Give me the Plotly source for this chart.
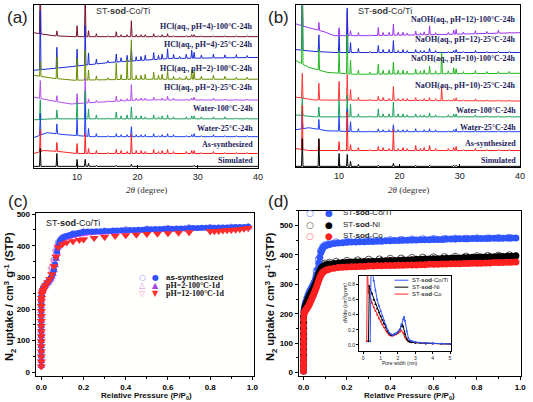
import numpy as np
import plotly.graph_objects as go

W, H = 533, 402

# ---------------- XRD data (panels a, b) ----------------
PEAKS = [3.9, 6.65, 10.0, 11.35, 11.9, 13.2, 15.1, 16.5, 17.3, 18.3, 19.0, 19.8, 20.6, 21.3,
         22.7, 23.5, 24.1, 25.0, 26.0, 27.0, 28.1, 29.0, 29.4, 30.6, 32.6, 34.5, 36.4, 38.2]

# panel (a) peak heights
a_sim = [18, 13, 7, 7, 3, 1, 0, 1, 0, 0, 2, 0, 0, 0, 0, 0, 0, 0, 0, 0, 0, 0, 1, 0, 0, 0, 0, 0]
a_as = [22, 9, 10, 20, 5, 3, 1, 4, 3, 2, 19, 3, 3, 2, 4, 2, 3, 4, 2, 0, 2, 3, 3, 1, 2, 1, 1, 1]
a_w25 = [22, 10, 17, 33, 8, 3, 1, 3, 2, 2, 10, 2, 2, 2, 3, 1, 2, 3, 2, 0, 1, 2, 3, 1, 2, 1, 1, 1]
a_w100 = [20, 9, 17, 28, 10, 4, 1, 7, 3, 4, 12, 3, 3, 2, 4, 2, 3, 4, 2, 0, 2, 3, 3, 2, 2, 2, 1, 1]
a_h2_25 = [18, 6, 10, 25, 4, 2, 1, 5, 2, 2, 16, 2, 2, 2, 3, 1, 2, 4, 2, 0, 1, 2, 3, 1, 2, 1, 1, 1]
a_h2_100 = [15, 22, 22, 30, 10, 4, 2, 17, 5, 20, 40, 4, 4, 5, 7, 4, 5, 9, 3, 2, 3, 10, 8, 3, 4, 3, 2, 2]
a_h4_25 = [60, 21, 17, 40, 12, 5, 2, 8, 4, 6, 14, 4, 4, 5, 7, 4, 5, 10, 4, 2, 4, 8, 6, 3, 4, 3, 3, 2]
a_h4_100 = [60, 5, 11, 50, 6, 3, 1, 5, 2, 2, 16, 2, 2, 2, 3, 1, 2, 3, 1, 0, 1, 2, 2, 1, 1, 1, 1, 1]

# panel (a) baselines (x in degrees, y in stacked offset units)
a_sim_bx, a_sim_by = [2.8, 40], [2, 2]
a_as_bx, a_as_by = [2.8, 4.5, 7, 9.5, 40], [15, 18, 17, 15, 15]
a_w25_bx, a_w25_by = [2.8, 5, 8, 12.5, 40], [31, 36, 34, 32, 32]
a_w100_bx, a_w100_by = [2.8, 6, 40], [49, 50, 50]
a_h2_25_bx, a_h2_25_by = [2.8, 6, 9, 14, 20.2, 40], [72, 68, 65, 67, 69, 69]
a_h2_100_bx, a_h2_100_by = [2.8, 6, 9.5, 20.2, 40], [94, 91, 89, 90, 90]
a_h4_25_bx, a_h4_25_by = [2.8, 8, 15.5, 25.5, 40], [99, 102, 107, 111, 112]
a_h4_100_bx, a_h4_100_by = [2.8, 6, 9.5, 40], [137, 134, 133, 133]

# panel (b) peak heights
b_sim = [28, 28, 13, 12, 5, 2, 0, 1, 0, 0, 3, 0, 0, 0, 1, 0, 0, 1, 0, 0, 0, 1, 1, 0, 0, 0, 0, 0]
b_as = [45, 11, 9, 39, 6, 3, 1, 4, 3, 2, 21, 2, 3, 2, 5, 2, 3, 5, 2, 0, 2, 3, 4, 1, 2, 1, 1, 1]
b_w25 = [17, 10, 15, 23, 10, 3, 1, 3, 2, 2, 7, 2, 2, 2, 3, 1, 2, 3, 2, 0, 1, 2, 3, 1, 2, 1, 1, 1]
b_w100 = [18, 10, 17, 22, 13, 3, 1, 8, 3, 3, 15, 3, 3, 2, 3, 2, 2, 4, 2, 0, 2, 3, 3, 1, 2, 1, 1, 1]
b_n10_25 = [25, 17, 19, 26, 11, 3, 1, 4, 3, 2, 14, 2, 2, 2, 3, 1, 2, 3, 2, 14, 1, 2, 3, 1, 2, 1, 1, 1]
b_n10_100 = [80, 21, 22, 40, 14, 4, 2, 10, 4, 4, 12, 4, 4, 3, 5, 3, 4, 8, 3, 22, 3, 6, 5, 2, 3, 2, 2, 2]
b_n12_25 = [60, 17, 17, 45, 10, 4, 1, 7, 3, 3, 12, 2, 3, 2, 3, 2, 2, 4, 2, 0, 1, 2, 3, 1, 2, 1, 1, 1]
b_n12_100 = [60, 8, 8, 25, 5, 3, 1, 8, 3, 3, 11, 3, 3, 2, 4, 2, 3, 9, 2, 0, 2, 4, 5, 2, 3, 2, 3, 1]

b_sim_bx, b_sim_by = [2.8, 40], [1, 1]
b_as_bx, b_as_by = [2.8, 5, 40], [19, 17, 17]
b_w25_bx, b_w25_by = [2.8, 5, 8, 12.5, 40], [38, 40, 37, 36, 36]
b_w100_bx, b_w100_by = [2.8, 6, 40], [53, 51, 51]
b_n10_25_bx, b_n10_25_by = [2.8, 6, 40], [71, 68, 67]
b_n10_100_bx, b_n10_100_by = [2.8, 5, 8, 12.5, 40], [108, 101, 96, 94, 95]
b_n12_25_bx, b_n12_25_by = [2.8, 6, 9.5, 40], [119, 117, 116, 116]
b_n12_100_bx, b_n12_100_by = [2.8, 5, 7.5, 9.2, 14, 25.5, 40], [145, 141, 137, 133, 133, 134, 136]

a_labels = ["HCl(aq., pH=4)-100°C-24h", "HCl(aq., pH=4)-25°C-24h", "HCl(aq., pH=2)-100°C-24h",
            "HCl(aq., pH=2)-25°C-24h", "Water-100°C-24h", "Water-25°C-24h", "As-synthesized", "Simulated"]
a_label_y = [143, 125, 101, 82, 60, 40, 24, 8]
b_labels = ["NaOH(aq., pH=12)-100°C-24h", "NaOH(aq., pH=12)-25°C-24h", "NaOH(aq., pH=10)-100°C-24h",
            "NaOH(aq., pH=10)-25°C-24h", "Water-100°C-24h", "Water-25°C-24h", "As-synthesized", "Simulated"]
b_label_y = [149, 129, 110, 83, 57, 40, 24, 7]
xrd_ticks = [10, 20, 30, 40]

# ---------------- isotherm data (panel c) ----------------
c_p = [0, 0, 0, 0, 0, 0, 0, 0, 0, 0, 0, 0, 0, 0,
       0.001, 0.002, 0.004, 0.007, 0.01,
       0.015, 0.02, 0.025, 0.03, 0.035, 0.04, 0.045, 0.05, 0.055, 0.06, 0.065, 0.07, 0.075, 0.08,
       0.085, 0.09, 0.095,
       0.1, 0.11, 0.12, 0.13, 0.14, 0.15, 0.16, 0.17, 0.18, 0.19, 0.2,
       0.22, 0.24, 0.26, 0.28, 0.3, 0.32, 0.34, 0.36, 0.38, 0.4,
       0.42, 0.44, 0.46, 0.48, 0.5, 0.52, 0.54, 0.56, 0.58, 0.6,
       0.62, 0.64, 0.66, 0.68, 0.7, 0.72, 0.74, 0.76, 0.78, 0.8,
       0.82, 0.84, 0.86, 0.88, 0.9, 0.92, 0.94, 0.96, 0.98]
c_as = [20, 36, 52, 68, 84, 100, 116, 132, 148, 164, 180, 196, 212, 228,
        240, 250, 258, 264, 268,
        273, 277, 281, 285, 289, 294, 299, 305, 313, 325, 342, 362, 382, 398, 410, 417, 421,
        425, 429, 431, 433, 435, 437, 438, 440, 441, 442, 444,
        445, 445, 446, 446, 447, 447, 448, 448, 449, 449,
        450, 450, 451, 451, 452, 452, 453, 453, 454, 454,
        454, 455, 455, 455, 456, 456, 456, 457, 457, 457,
        457, 458, 458, 458, 458, 459, 459, 459, 460]
c_ph2 = [20, 35, 50, 66, 82, 98, 114, 130, 146, 162, 178, 194, 210, 224,
         236, 246, 254, 260, 265,
         270, 274, 278, 282, 286, 291, 296, 302, 310, 322, 338, 358, 378, 394, 405, 412, 416,
         419, 423, 426, 428, 430, 432, 433, 435, 436, 437, 438,
         439, 440, 441, 441, 442, 443, 443, 444, 445, 445,
         446, 446, 447, 448, 448, 449, 449, 450, 450, 451,
         451, 452, 452, 453, 453, 454, 454, 455, 455, 455,
         456, 456, 457, 457, 457, 458, 458, 458, 459]
c_pr = [0, 0, 0, 0, 0, 0, 0, 0, 0, 0, 0, 0, 0, 0, 0.001, 0.003, 0.006, 0.01, 0.015, 0.02,
        0.03, 0.04, 0.05, 0.06, 0.07, 0.08, 0.1, 0.12, 0.15, 0.18, 0.2,
        0.25, 0.3, 0.35, 0.4, 0.45, 0.5, 0.55, 0.6, 0.65, 0.7,
        0.8, 0.82, 0.84, 0.86, 0.88, 0.9, 0.92, 0.94, 0.96, 0.98]
c_ph12 = [18, 34, 50, 66, 82, 98, 114, 130, 146, 162, 178, 194, 210, 225,
          235, 248, 255, 260, 268, 275,
          285, 295, 310, 335, 365, 395, 405, 410, 414, 418, 420,
          425, 428, 431, 433, 435, 437, 438, 440, 441, 443,
          446, 446, 447, 448, 449, 450, 451, 452, 454, 456]
c_pd = [0.05, 0.06, 0.07, 0.08, 0.09, 0.1, 0.15, 0.2, 0.3, 0.4, 0.5, 0.6, 0.7, 0.8, 0.9, 0.98]
c_as_des = [330, 355, 385, 410, 420, 426, 438, 444, 447, 451, 453, 455, 457, 458, 459, 460]
c_ph2_des = [320, 345, 375, 400, 412, 420, 433, 438, 443, 447, 449, 452, 454, 456, 457, 459]
c_ph12_des = [325, 350, 380, 398, 404, 407, 415, 421, 429, 434, 438, 441, 444, 447, 451, 457]

# ---------------- isotherm data (panel d) ----------------
d_p = [0, 0, 0, 0, 0, 0, 0, 0, 0, 0, 0,
       0.002, 0.004, 0.007, 0.01,
       0.015, 0.02, 0.025, 0.03, 0.035, 0.04, 0.045, 0.05, 0.055, 0.06, 0.065, 0.07, 0.075, 0.08,
       0.085, 0.09,
       0.1, 0.11, 0.12, 0.14, 0.16, 0.18, 0.2,
       0.22, 0.24, 0.26, 0.28, 0.3, 0.32, 0.34, 0.36, 0.38, 0.4,
       0.42, 0.44, 0.46, 0.48, 0.5, 0.52, 0.54, 0.56, 0.58, 0.6,
       0.62, 0.64, 0.66, 0.68, 0.7, 0.72, 0.74, 0.76, 0.78, 0.8,
       0.82, 0.84, 0.86, 0.88, 0.9, 0.92, 0.94, 0.96, 0.98]
d_coti = [5, 22, 40, 58, 76, 94, 112, 130, 150, 170, 190,
          210, 222, 232, 240,
          252, 262, 271, 279, 286, 293, 300, 308, 318, 332, 350, 372, 392, 408, 418, 425,
          431, 434, 436, 439, 441, 442, 443,
          444, 444, 445, 445, 446, 446, 447, 447, 448, 448,
          449, 449, 450, 450, 451, 451, 452, 452, 452, 453,
          453, 453, 454, 454, 454, 455, 455, 455, 456, 456,
          456, 456, 457, 457, 457, 457, 458, 458, 458]
d_ni = [5, 22, 40, 58, 76, 94, 112, 130, 150, 170, 190,
        205, 213, 222, 230,
        240, 250, 258, 265, 272, 279, 286, 294, 303, 313, 324, 336, 346, 353, 358, 361,
        365, 367, 369, 371, 373, 374, 375,
        376, 377, 377, 378, 378, 379, 379, 380, 380, 381,
        381, 382, 383, 383, 384, 385, 385, 386, 386, 387,
        387, 388, 389, 389, 390, 390, 391, 391, 392, 392,
        393, 393, 394, 394, 395, 395, 396, 396, 397]
d_co = [5, 20, 36, 52, 70, 88, 106, 124, 142, 160, 180,
        198, 205, 210, 213,
        218, 224, 230, 238, 246, 255, 263, 272, 282, 292, 303, 314, 324, 332, 338, 342,
        347, 350, 352, 355, 357, 358, 359,
        360, 360, 361, 361, 362, 362, 363, 363, 364, 364,
        364, 365, 365, 366, 366, 366, 367, 367, 368, 368,
        368, 369, 369, 370, 370, 370, 371, 371, 372, 372,
        372, 373, 373, 374, 374, 374, 375, 375, 376]
d_pd = [0.06, 0.07, 0.08, 0.09, 0.1, 0.12, 0.15, 0.2, 0.25, 0.3, 0.35, 0.4, 0.45, 0.5, 0.55, 0.6,
        0.65, 0.7, 0.75, 0.8, 0.85, 0.9, 0.95]
d_coti_des = [345, 385, 415, 428, 434, 439, 443, 446, 448, 449, 450, 451, 452, 453, 454, 455, 455,
              456, 456, 457, 457, 458, 458]
d_ni_des = [330, 355, 362, 368, 371, 374, 377, 380, 382, 384, 385, 387, 388, 390, 391, 392, 393,
            394, 395, 396, 397, 398, 399]
d_co_des = [300, 325, 340, 348, 352, 356, 359, 362, 364, 365, 366, 367, 368, 369, 370, 371, 372,
            373, 374, 374, 375, 376, 377]

# inset pore-size distribution
ins_coti_w = [0.4, 0.45, 0.5, 0.6, 0.7, 0.8, 0.9, 1.0, 1.1, 1.2, 1.3, 1.4, 1.5, 1.6, 1.7, 1.8, 1.9,
              2.0, 2.1, 2.2, 2.3, 2.35, 2.4, 2.5, 2.6, 2.7, 2.8, 3.0, 3.3, 3.6, 4.0, 4.5, 5.0]
ins_coti_v = [0.05, 1.05, 1.0, 0.85, 0.72, 0.6, 0.52, 0.45, 0.38, 0.32, 0.26, 0.2, 0.16, 0.14, 0.13,
              0.14, 0.15, 0.17, 0.2, 0.27, 0.34, 0.37, 0.32, 0.18, 0.09, 0.06, 0.05, 0.04, 0.03,
              0.025, 0.02, 0.015, 0.012]
ins_ni_w = [0.3, 0.35, 0.4, 0.5, 0.6, 0.7, 0.8, 0.9, 1.0, 1.1, 1.2, 1.3, 1.4, 1.5, 1.6, 1.7, 1.8,
            1.9, 2.0, 2.1, 2.2, 2.25, 2.3, 2.4, 2.5, 2.6, 2.7, 2.8, 3.0, 3.3, 3.6, 4.0, 4.5, 5.0]
ins_ni_v = [0.05, 0.78, 0.74, 0.68, 0.6, 0.54, 0.48, 0.43, 0.38, 0.33, 0.28, 0.23, 0.18, 0.15, 0.13,
            0.13, 0.14, 0.15, 0.17, 0.2, 0.25, 0.27, 0.24, 0.14, 0.08, 0.05, 0.04, 0.035, 0.03,
            0.025, 0.02, 0.018, 0.015, 0.012]
ins_co_w = [0.2, 0.23, 0.3, 0.4, 0.5, 0.6, 0.7, 0.8, 0.9, 1.0, 1.1, 1.2, 1.3, 1.4, 1.5, 1.6, 1.7,
            1.8, 1.9, 2.0, 2.1, 2.2, 2.3, 2.4, 2.5, 2.6, 2.7, 2.8, 3.0, 3.3, 3.6, 4.0, 4.5, 5.0]
ins_co_v = [0.05, 1.05, 0.7, 0.62, 0.56, 0.5, 0.45, 0.4, 0.35, 0.31, 0.27, 0.23, 0.19, 0.16, 0.13,
            0.12, 0.12, 0.13, 0.14, 0.15, 0.17, 0.19, 0.16, 0.1, 0.07, 0.05, 0.04, 0.035, 0.03,
            0.025, 0.02, 0.018, 0.015, 0.012]

# ---------------- helpers ----------------
PW = 0.12


def pattern(bx, by, heights):
    """Stick-peak pattern: baseline polyline plus a narrow triangle per listed peak."""
    xs, ys = [], []
    for x, y in zip(bx, by):
        if all(abs(x - p) > PW * 1.5 for p, h in zip(PEAKS, heights) if h > 0):
            xs.append(x)
            ys.append(y)
    for p, h in zip(PEAKS, heights):
        if h <= 0:
            continue
        xs += [p - PW, p, p + PW]
        ys += [float(np.interp(p - PW, bx, by)), float(np.interp(p, bx, by)) + h,
               float(np.interp(p + PW, bx, by))]
    order = np.argsort(xs, kind="stable")
    return np.array(xs)[order], np.array(ys)[order]


def dx(l, r):
    return [l / W, r / W]


def dy(t, b):
    return [1 - b / H, 1 - t / H]


fig = go.Figure()

a_series = [
    (a_h4_100_bx, a_h4_100_by, a_h4_100, "#7a0f2c"),
    (a_h4_25_bx, a_h4_25_by, a_h4_25, "#1a2ad6"),
    (a_h2_100_bx, a_h2_100_by, a_h2_100, "#6a8f00"),
    (a_h2_25_bx, a_h2_25_by, a_h2_25, "#b44cf0"),
    (a_w100_bx, a_w100_by, a_w100, "#1ba05c"),
    (a_w25_bx, a_w25_by, a_w25, "#2040f0"),
    (a_as_bx, a_as_by, a_as, "#ff2020"),
    (a_sim_bx, a_sim_by, a_sim, "#000000"),
]
for bx, by, hts, col in a_series:
    x, y = pattern(bx, by, hts)
    fig.add_trace(go.Scatter(x=x, y=y, mode="lines", line=dict(color=col, width=1),
                             xaxis="x", yaxis="y", showlegend=False))

b_series = [
    (b_n12_100_bx, b_n12_100_by, b_n12_100, "#9b34f0"),
    (b_n12_25_bx, b_n12_25_by, b_n12_25, "#1a2ad6"),
    (b_n10_100_bx, b_n10_100_by, b_n10_100, "#22b822"),
    (b_n10_25_bx, b_n10_25_by, b_n10_25, "#ff3434"),
    (b_w100_bx, b_w100_by, b_w100, "#1ba05c"),
    (b_w25_bx, b_w25_by, b_w25, "#2040f0"),
    (b_as_bx, b_as_by, b_as, "#ff2020"),
    (b_sim_bx, b_sim_by, b_sim, "#000000"),
]
for bx, by, hts, col in b_series:
    x, y = pattern(bx, by, hts)
    fig.add_trace(go.Scatter(x=x, y=y, mode="lines", line=dict(color=col, width=1),
                             xaxis="x2", yaxis="y2", showlegend=False))


def mk(x, y, ax, ay, symbol, size, color, open_=False):
    if open_:
        m = dict(symbol=symbol, size=size, color=color, line=dict(color=color, width=1))
    else:
        m = dict(symbol=symbol, size=size, color=color, line=dict(width=0))
    fig.add_trace(go.Scatter(x=x, y=y, mode="markers", marker=m, xaxis=ax, yaxis=ay,
                             showlegend=False))


# panel (c)
mk(c_pd, c_as_des, "x3", "y3", "circle-open", 6, "#8a8ae8", True)
mk(c_pd, c_ph2_des, "x3", "y3", "triangle-up-open", 7, "#e487e4", True)
mk(c_pd, c_ph12_des, "x3", "y3", "triangle-down-open", 7, "#ff96c0", True)
mk(c_p, c_ph2, "x3", "y3", "triangle-up", 7, "#a642e6")
mk(c_p, c_as, "x3", "y3", "circle", 6, "#3050ff")
mk(c_pr, c_ph12, "x3", "y3", "triangle-down", 8, "#ff2a2a")

# panel (d)
mk(d_pd, d_coti_des, "x4", "y4", "circle-open", 7, "#6d86ff", True)
mk(d_pd, d_ni_des, "x4", "y4", "circle-open", 7, "#555555", True)
mk(d_pd, d_co_des, "x4", "y4", "circle-open", 7, "#ff7070", True)
mk(d_p, d_coti, "x4", "y4", "circle", 7, "#2f55ff")
mk(d_p, d_ni, "x4", "y4", "circle", 7, "#000000")
mk(d_p, d_co, "x4", "y4", "circle", 7, "#ff1f1f")

# inset
for w, v, col in [(ins_co_w, ins_co_v, "#ff2020"), (ins_ni_w, ins_ni_v, "#000000"),
                  (ins_coti_w, ins_coti_v, "#2f55ff")]:
    fig.add_trace(go.Scatter(x=w, y=v, mode="lines+markers", line=dict(color=col, width=1),
                             marker=dict(size=2, color=col), xaxis="x5", yaxis="y5",
                             showlegend=False))

frame = dict(showline=True, mirror=True, linecolor="black", linewidth=1, showgrid=False,
             zeroline=False)
xrd_x = dict(frame, range=[2.8, 40], tickvals=xrd_ticks, ticks="inside", ticklen=3,
             tickcolor="black", tickfont=dict(family="Liberation Sans", size=9, color="#222"))
xrd_y = dict(frame, showticklabels=False, ticks="")
bold_tick = dict(family="Liberation Sans", size=8, color="black", weight="bold")
iso_x = dict(frame, tickvals=[0, 0.2, 0.4, 0.6, 0.8, 1.0], tickformat=".1f", ticks="outside",
             ticklen=3, tickcolor="black", tickfont=bold_tick,
             minor=dict(ticks="outside", ticklen=2, dtick=0.1, tickcolor="black"))
iso_y = dict(frame, tickvals=[0, 100, 200, 300, 400, 500], ticks="outside", ticklen=3,
             tickcolor="black", tickfont=bold_tick,
             minor=dict(ticks="outside", ticklen=2, dtick=50, tickcolor="black"))
small_tick = dict(family="Liberation Sans", size=5, color="#222")

fig.update_layout(
    width=W, height=H, autosize=False, margin=dict(l=0, r=0, t=0, b=0),
    paper_bgcolor="white", plot_bgcolor="#fffffe", showlegend=False,
    xaxis=dict(xrd_x, domain=dx(33, 260), anchor="y"),
    yaxis=dict(xrd_y, domain=dy(2, 167), range=[0, 165], anchor="x"),
    xaxis2=dict(xrd_x, domain=dx(298, 525), anchor="y2"),
    yaxis2=dict(xrd_y, domain=dy(2, 166), range=[0, 164], anchor="x2"),
    xaxis3=dict(iso_x, domain=dx(35, 256), range=[-0.027, 1.008], anchor="y3"),
    yaxis3=dict(iso_y, domain=dy(212, 377), range=[-12.5, 504], anchor="x3"),
    xaxis4=dict(iso_x, domain=dx(301, 526), range=[-0.023, 1.004], anchor="y4"),
    yaxis4=dict(iso_y, domain=dy(210, 377), range=[-13, 550], anchor="x4"),
    xaxis5=dict(frame, domain=dx(362, 455), range=[-0.25, 5.05], anchor="y5",
                tickvals=[0, 1, 2, 3, 4, 5], ticks="outside", ticklen=2, tickcolor="black",
                tickfont=small_tick),
    yaxis5=dict(frame, domain=dy(276, 351), range=[-0.074, 0.91], anchor="x5",
                tickvals=[0, 0.2, 0.4, 0.6, 0.8], tickformat=".1f", ticks="outside", ticklen=2,
                tickcolor="black", tickfont=small_tick),
)

ann = []


def A(text, x, y, size, xanchor="center", color="#222", family="Liberation Sans", angle=0):
    ann.append(dict(text=text, x=x / W, y=1 - y / H, xref="paper", yref="paper",
                    xanchor=xanchor, yanchor="middle", showarrow=False, textangle=angle,
                    font=dict(size=size, color=color, family=family)))


# XRD labels (right-aligned near the right frame, centred on each pattern's label height)
for t, yv in zip(a_labels, a_label_y):
    A("<b>" + t + "</b>", 257, 167 - yv, 8, "right", "#1c1c5a", "Liberation Serif")
for t, yv in zip(b_labels, b_label_y):
    A("<b>" + t + "</b>", 523, 166 - yv, 8, "right", "#1c1c5a", "Liberation Serif")

A("ST-<b>sod</b>-Co/Ti", 123, 8, 9, "center", "#333")
A("ST-<b>sod</b>-Co/Ti", 388, 8, 9, "center", "#333")
A("<i>2θ</i> (degree)", 147, 189, 9, "center", "#333", "Liberation Serif")
A("<i>2θ</i> (degree)", 412, 189, 9, "center", "#333", "Liberation Serif")

# panel letters
A("(a)", 17, 15, 17, "center", "#222")
A("(b)", 281, 15, 17, "center", "#222")
A("(c)", 17, 200, 17, "center", "#222")
A("(d)", 281, 200, 17, "center", "#222")

# panel (c)/(d) titles
A("ST-<b>sod</b>-Co/Ti", 43, 222, 9, "left", "#222")
ytitle = "<b>N<sub>2</sub> uptake / cm<sup>3</sup> g<sup>-1</sup> (STP)</b>"
A(ytitle, 9, 296, 11, "center", "#111", angle=-90)
A(ytitle, 273, 296, 11, "center", "#111", angle=-90)
xtitle = "<b>Relative Pressure (P/P<sub>0</sub>)</b>"
A(xtitle, 147, 397, 8, "center", "#111")
A(xtitle, 413, 397, 8, "center", "#111")

c_leg = [("○", "#8a8ae8", "●", "#3050ff", "<b>as-synthesized</b>", "Liberation Sans", 277),
         ("△", "#e487e4", "▲", "#a642e6", "<b>pH=2-100°C-1d</b>", "Liberation Serif", 285),
         ("▽", "#ff96c0", "▼", "#ff2a2a", "<b>pH=12-100°C-1d</b>", "Liberation Serif", 293)]
for o, oc, f, fc, t, fam, yy in c_leg:
    A(o, 143, yy, 8, "center", oc, "DejaVu Sans")
    A(f, 156, yy, 8, "center", fc, "DejaVu Sans")
    A(t, 165, yy, 8, "left", "#111", fam)

d_leg = [("#6d86ff", "#2f55ff", "ST-<b>sod</b>-Co/Ti", 212),
         ("#555555", "#000000", "ST-<b>sod</b>-Ni", 224),
         ("#ff7070", "#ff1f1f", "ST-<b>sod</b>-Co", 235)]
for oc, fc, t, yy in d_leg:
    A("○", 313, yy, 9, "center", oc, "DejaVu Sans")
    A("●", 332, yy, 9, "center", fc, "DejaVu Sans")
    A(t, 344, yy, 8, "left", "#222")

# inset legend and titles
shapes = []
for col, t, yy in [("#2f55ff", "ST-<b>sod</b>-Co/Ti", 280), ("#000000", "ST-<b>sod</b>-Ni", 287),
                   ("#ff2020", "ST-<b>sod</b>-Co", 294)]:
    shapes.append(dict(type="line", xref="paper", yref="paper", x0=398 / W, x1=412 / W,
                       y0=1 - yy / H, y1=1 - yy / H, line=dict(color=col, width=1)))
    A(t, 414, yy, 6, "left", "#222")
A("Pore width (nm)", 404, 364, 5, "center", "#222")
A("dV/dw (cm<sup>3</sup>/g·nm)", 348, 303, 5, "center", "#222", angle=-90)

fig.update_layout(annotations=ann, shapes=shapes)
fig.write_html("out.html", config={"displayModeBar": False},
               post_script="document.body.style.margin='0';document.body.style.padding='0';")
